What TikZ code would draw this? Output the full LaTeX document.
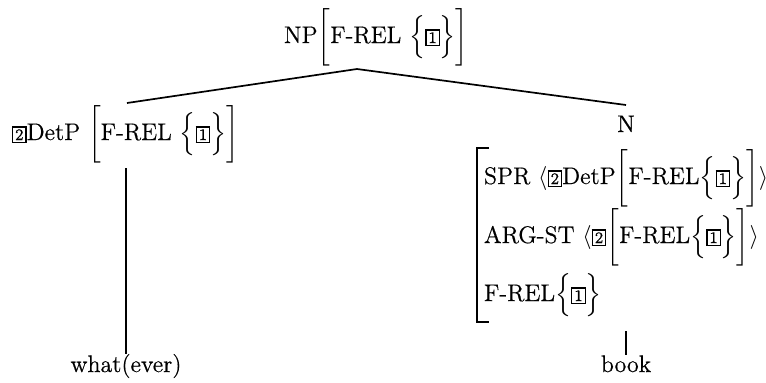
\documentclass[tikz,border=0pt,12pt]{standalone}
\usepackage{amsmath}
\usepackage{fontspec}
\setmainfont{Latin Modern Roman}[FakeBold=0.5]
% boxed structure-sharing tag
\newcommand\tg[1]{{\setlength\fboxsep{0.9pt}\setlength\fboxrule{0.65pt}\fbox{\scriptsize #1}}}
\begin{document}
\begin{tikzpicture}[x=0.5pt,y=-0.5pt,
  branch/.style={line width=0.85pt},
  avmbar/.style={line width=0.7pt},
  lbl/.style={inner sep=0pt,outer sep=0pt,anchor=base west},
  word/.style={inner sep=0pt,outer sep=0pt,anchor=base}]
\useasboundingbox (0,0) rectangle (766,382);

% mother node
\node[lbl] (np) at (284,43) {NP$\biggl[$F-REL $\Bigl\{$\tg{1}$\Bigr\}\biggr]$};
\coordinate (apex) at (357,69);

% left daughter
\node[lbl] (detp) at (12,140) {\tg{2}DetP $\biggl[$F-REL $\Bigl\{$\tg{1}$\Bigr\}\biggr]$};
\coordinate (detptop) at (127,103);
\coordinate (detpfoot) at (126,168);
\node[word] (what) at (126,372) {what(ever)};

% right daughter
\node[word] (n) at (626,132) {N};
\coordinate (ntop) at (626,105);
\node[lbl] (spr) at (484,184) {SPR $\langle$\tg{2}DetP$\biggl[$F-REL$\Bigl\{$\tg{1}$\Bigr\}\biggr]\rangle$};
\node[lbl] (argst) at (484,243) {ARG-ST $\langle$\tg{2}$\biggl[$F-REL$\Bigl\{$\tg{1}$\Bigr\}\biggr]\rangle$};
\node[lbl] (frel) at (484,301) {F-REL$\Bigl\{$\tg{1}$\Bigr\}$};
\coordinate (avmtop) at (477,148);
\coordinate (avmbot) at (477,322);
\draw[avmbar] ([xshift=6]avmtop) -- (avmtop) -- (avmbot) -- ([xshift=6]avmbot);
\coordinate (nfoot) at (626,331);
\node[word] (book) at (626,372) {book};

% branches
\draw[branch] (detptop) -- (apex) -- (ntop);
\draw[branch] (detpfoot) -- (what.north);
\draw[branch] (nfoot) -- (book.north);
\end{tikzpicture}
\end{document}
